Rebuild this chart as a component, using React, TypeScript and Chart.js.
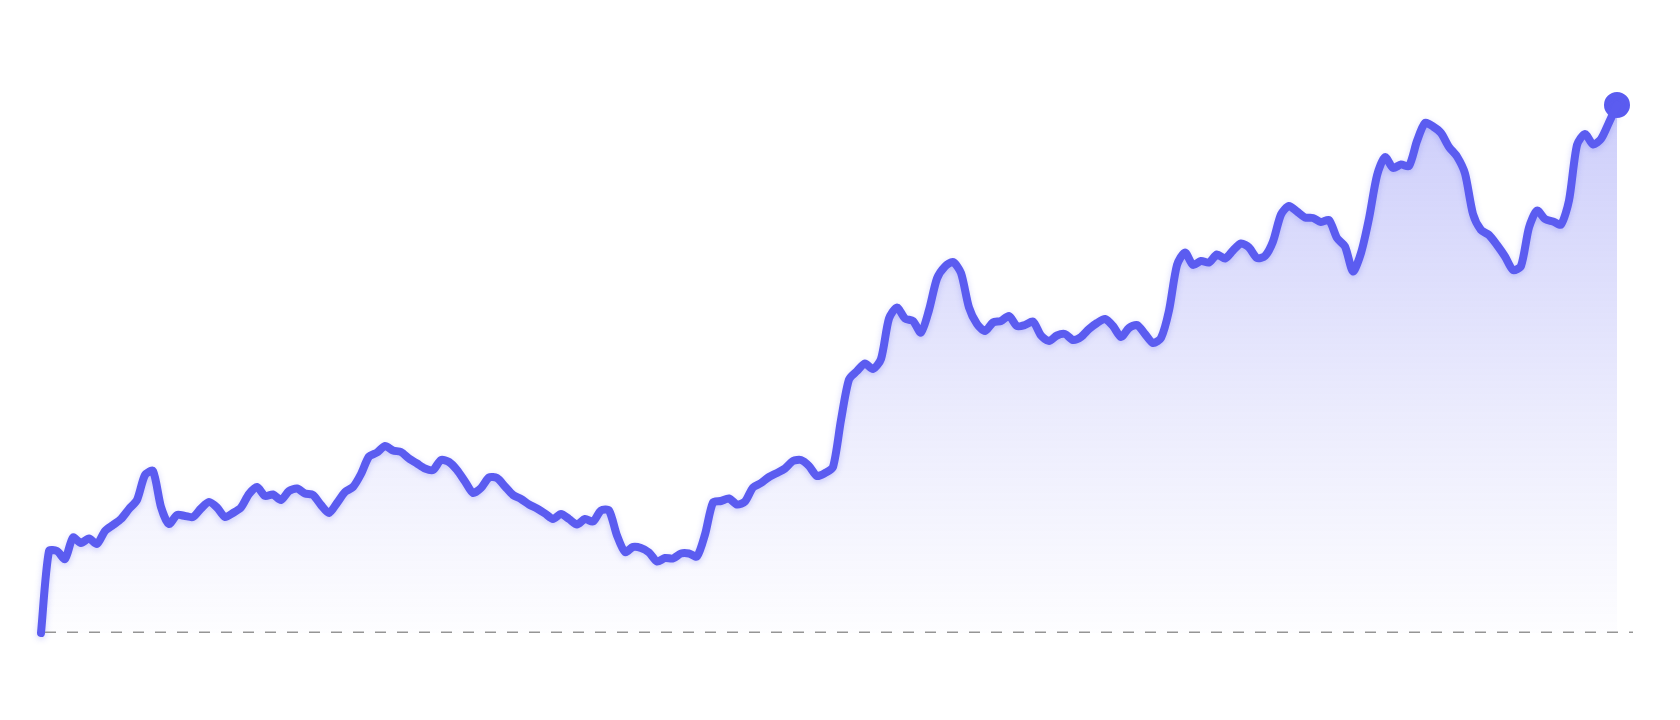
import { useEffect, useRef } from "react";
import { Chart, registerables, ChartConfiguration, Plugin } from "chart.js";

Chart.register(...registerables);

// price, one value per trading step
const prices: number[] = [
  50.0, 66.4, 66.4, 64.8, 69.1, 68.0, 68.9, 67.8, 70.4, 71.6,
  72.8, 74.8, 76.6, 81.6, 82.4, 75.2, 71.8, 73.6, 73.4, 73.2,
  74.9, 76.2, 75.1, 73.2, 74.0, 75.1, 77.8, 79.2, 77.4, 77.7,
  76.6, 78.4, 78.9, 77.9, 77.6, 75.6, 74.0, 76.0, 78.2, 79.2,
  81.8, 85.3, 86.1, 87.4, 86.5, 86.2, 84.9, 83.9, 82.9, 82.6,
  84.6, 84.2, 82.6, 80.3, 78.0, 79.0, 81.1, 81.0, 79.3, 77.6,
  76.8, 75.7, 74.9, 73.9, 72.8, 73.8, 72.8, 71.7, 72.8, 72.3,
  74.5, 74.5, 69.5, 66.2, 67.2, 67.0, 66.1, 64.3, 65.0, 64.9,
  65.9, 65.9, 65.3, 69.7, 76.1, 76.4, 76.9, 75.7, 76.3, 79.1,
  80.0, 81.2, 82.0, 82.9, 84.4, 84.6, 83.4, 81.4, 82.0, 83.2,
  92.6, 100.7, 102.4, 103.9, 102.8, 104.8, 112.9, 115.1, 112.9, 112.4,
  110.1, 114.6, 120.9, 123.3, 124.2, 122.0, 115.1, 111.8, 110.4, 112.1,
  112.4, 113.4, 111.4, 111.6, 112.3, 109.5, 108.4, 109.5, 109.8, 108.6,
  109.2, 110.8, 112.0, 112.8, 111.4, 109.2, 111.0, 111.6, 109.8, 108.0,
  109.0, 114.5, 123.6, 126.1, 123.6, 124.4, 124.1, 125.7, 124.9, 126.5,
  127.9, 127.1, 125.0, 125.4, 128.3, 133.7, 135.4, 134.3, 133.1, 133.0,
  132.2, 132.6, 129.0, 127.3, 122.3, 126.0, 132.9, 141.5, 145.2, 143.0,
  143.7, 143.4, 148.4, 152.0, 151.3, 150.0, 147.2, 145.3, 141.9, 133.8,
  130.6, 129.6, 127.6, 125.3, 122.6, 123.4, 131.1, 134.5, 132.8, 132.3,
  131.7, 136.5, 147.6, 149.8, 147.7, 148.8, 152.1, 155.6,
];

const steps: number[] = prices.map((_, i) => i);
const startPrice = prices[0];
const lastStep = steps[steps.length - 1];
const lastPrice = prices[prices.length - 1];
const axisEnd = 199; // x range runs a little past the last point
const yMin = 50;
const yMax = 155.6;

const LINE = "#5b5cf0";

// soft glow under the price line only (filler has already drawn by then)
const lineGlow: Plugin<"line"> = {
  id: "lineGlow",
  beforeDatasetDraw(chart, args) {
    if (args.index !== 1) return;
    const ctx = chart.ctx;
    ctx.save();
    ctx.shadowColor = "rgba(91, 92, 240, 0.28)";
    ctx.shadowBlur = 6;
    ctx.shadowOffsetY = 2;
  },
  afterDatasetDraw(chart, args) {
    if (args.index !== 1) return;
    chart.ctx.restore();
  },
};

export default function App() {
  const canvasRef = useRef<HTMLCanvasElement>(null);

  useEffect(() => {
    if (!canvasRef.current) return;

    const config: ChartConfiguration<"line", { x: number; y: number }[]> = {
      type: "line",
      data: {
        datasets: [
          {
            // dashed baseline at the opening price
            data: [
              { x: 0, y: startPrice },
              { x: axisEnd, y: startPrice },
            ],
            borderColor: "#959595",
            borderWidth: 3,
            borderDash: [11, 11],
            borderDashOffset: -4,
            pointRadius: 0,
            fill: false,
          },
          {
            data: steps.map((s, i) => ({ x: s, y: prices[i] })),
            borderColor: LINE,
            borderWidth: 8,
            borderCapStyle: "round",
            borderJoinStyle: "round",
            tension: 0.25,
            fill: "start",
            backgroundColor: (c) => {
              const area = c.chart.chartArea;
              if (!area) return "rgba(99,102,241,0.2)";
              const g = c.chart.ctx.createLinearGradient(0, area.top, 0, area.bottom);
              g.addColorStop(0, "rgba(99, 102, 241, 0.32)");
              g.addColorStop(0.6, "rgba(99, 102, 241, 0.12)");
              g.addColorStop(1, "rgba(99, 102, 241, 0.01)");
              return g;
            },
            pointRadius: 0,
            clip: false,
          },
          {
            // end marker
            data: [{ x: lastStep, y: lastPrice }],
            showLine: false,
            pointRadius: 15,
            pointBackgroundColor: LINE,
            pointBorderColor: "#ffffff",
            pointBorderWidth: 4,
            clip: false,
          },
        ],
      },
      options: {
        animation: false,
        responsive: true,
        maintainAspectRatio: false,
        events: [],
        layout: { padding: { left: 41, right: 47, top: 105, bottom: 87 } },
        plugins: {
          legend: { display: false },
          tooltip: { enabled: false },
        },
        scales: {
          x: { type: "linear", display: false, min: 0, max: axisEnd },
          y: { display: false, min: yMin, max: yMax },
        },
      },
      plugins: [lineGlow],
    };

    const chart = new Chart(canvasRef.current, config);
    return () => chart.destroy();
  }, []);

  return (
    <div
      style={{
        position: "fixed",
        left: 0,
        top: 0,
        width: 1680,
        height: 720,
        background: "#ffffff",
      }}
    >
      <canvas ref={canvasRef} />
    </div>
  );
}
